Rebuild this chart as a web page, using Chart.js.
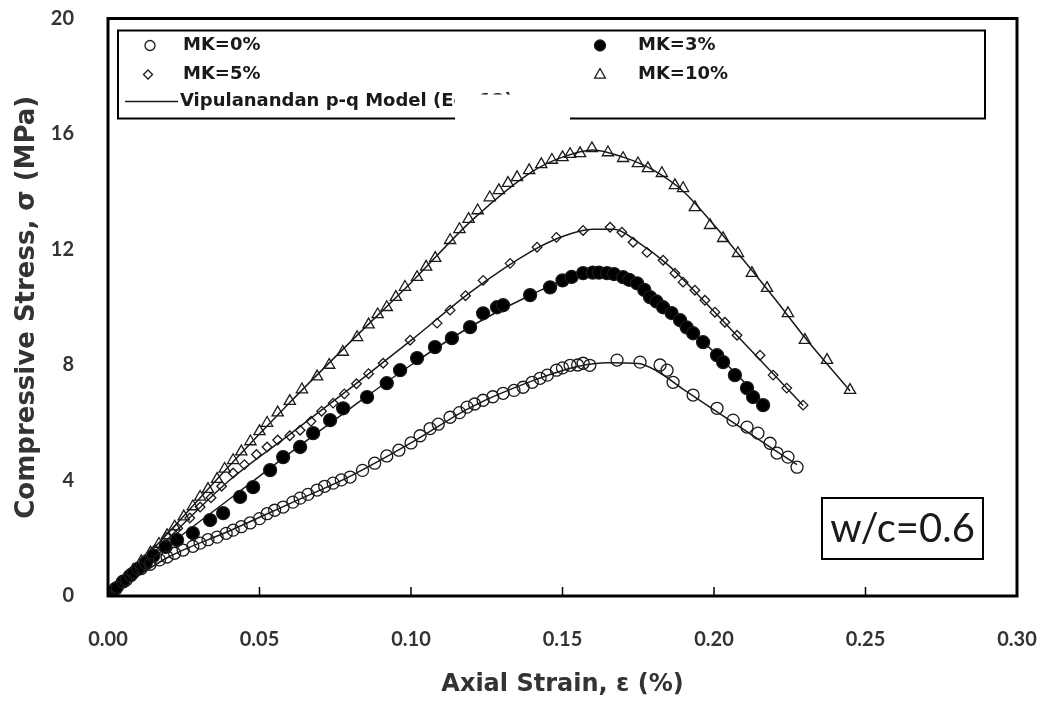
<!DOCTYPE html>
<html lang="en">
<head>
<meta charset="UTF-8">
<title>Compressive Stress vs Axial Strain</title>
<script src="https://cdn.jsdelivr.net/npm/chart.js/dist/chart.umd.min.js"></script>
<style>
  html, body { margin: 0; padding: 0; background: #fff; }
  .chartBox { width: 1050px; height: 702px; position: relative; }
</style>
</head>
<body>
<div class="chartBox"><canvas id="myChart"></canvas></div>
<script>
// axis setup
const xTicks = [0, 0.05, 0.10, 0.15, 0.20, 0.25, 0.30];
const yTicks = [0, 4, 8, 12, 16, 20];

// test data, strain (%) and stress (MPa)
const mk0Strain = [0, 0.003, 0.006, 0.0083, 0.011, 0.0139, 0.017, 0.0195, 0.022, 0.0248, 0.028, 0.0304, 0.033, 0.036, 0.039, 0.0413, 0.044, 0.0469, 0.050, 0.0525, 0.055, 0.0578, 0.061, 0.0634, 0.066, 0.069, 0.0715, 0.0743, 0.077, 0.0799, 0.084, 0.088, 0.092, 0.096, 0.100, 0.103, 0.1063, 0.109, 0.1129, 0.116, 0.1185, 0.121, 0.1238, 0.127, 0.1304, 0.134, 0.137, 0.140, 0.1426, 0.145, 0.148, 0.150, 0.1525, 0.155, 0.1568, 0.159, 0.168, 0.1756, 0.1822, 0.1845, 0.1865, 0.1931, 0.201, 0.2063, 0.2109, 0.2145, 0.2185, 0.2208, 0.2244, 0.2274];
const mk0Stress = [0, 0.3, 0.55, 0.8, 0.95, 1.1, 1.25, 1.35, 1.48, 1.59, 1.72, 1.83, 1.95, 2.04, 2.17, 2.28, 2.4, 2.53, 2.68, 2.85, 2.97, 3.08, 3.25, 3.39, 3.52, 3.67, 3.8, 3.91, 4.02, 4.12, 4.35, 4.6, 4.85, 5.05, 5.3, 5.55, 5.8, 5.95, 6.19, 6.35, 6.54, 6.65, 6.78, 6.9, 7.02, 7.12, 7.23, 7.4, 7.54, 7.65, 7.82, 7.9, 7.99, 8.0, 8.06, 7.99, 8.17, 8.1, 8.0, 7.82, 7.4, 6.96, 6.5, 6.09, 5.85, 5.64, 5.29, 4.95, 4.81, 4.46];

const mk3Strain = [0, 0.0025, 0.005, 0.0075, 0.01, 0.0125, 0.015, 0.019, 0.0228, 0.028, 0.0337, 0.038, 0.0436, 0.0479, 0.0535, 0.0578, 0.0634, 0.0677, 0.0733, 0.0776, 0.0855, 0.092, 0.0964, 0.102, 0.1079, 0.1135, 0.1195, 0.1238, 0.1284, 0.1304, 0.1393, 0.1459, 0.150, 0.153, 0.1568, 0.160, 0.162, 0.1647, 0.167, 0.170, 0.172, 0.1746, 0.177, 0.1789, 0.181, 0.1832, 0.186, 0.1888, 0.191, 0.1931, 0.1964, 0.201, 0.203, 0.2069, 0.2109, 0.2129, 0.2162];
const mk3Stress = [0, 0.25, 0.5, 0.72, 0.95, 1.15, 1.4, 1.7, 1.94, 2.18, 2.63, 2.87, 3.43, 3.77, 4.36, 4.81, 5.16, 5.64, 6.09, 6.5, 6.89, 7.37, 7.82, 8.24, 8.62, 8.93, 9.31, 9.79, 10.0, 10.07, 10.42, 10.69, 10.93, 11.05, 11.18, 11.2, 11.2, 11.18, 11.15, 11.04, 10.95, 10.83, 10.6, 10.35, 10.2, 10.0, 9.8, 9.55, 9.3, 9.1, 8.79, 8.34, 8.1, 7.65, 7.2, 6.89, 6.61];

const mk5Strain = [0, 0.004, 0.008, 0.012, 0.0155, 0.0195, 0.023, 0.027, 0.0304, 0.034, 0.0375, 0.0413, 0.045, 0.049, 0.0525, 0.056, 0.06, 0.0634, 0.067, 0.0705, 0.0743, 0.078, 0.082, 0.086, 0.0908, 0.0997, 0.1086, 0.1129, 0.118, 0.1238, 0.1327, 0.1416, 0.148, 0.1568, 0.1657, 0.1696, 0.1733, 0.1779, 0.1832, 0.1871, 0.1898, 0.1937, 0.197, 0.2003, 0.2036, 0.2076, 0.2152, 0.2195, 0.224, 0.2294];
const mk5Stress = [0, 0.45, 0.85, 1.25, 1.6, 2.04, 2.35, 2.7, 3.08, 3.4, 3.8, 4.26, 4.55, 4.9, 5.16, 5.4, 5.55, 5.74, 6.05, 6.4, 6.68, 7.0, 7.35, 7.7, 8.06, 8.86, 9.45, 9.9, 10.4, 10.93, 11.52, 12.08, 12.42, 12.66, 12.77, 12.6, 12.25, 11.9, 11.63, 11.18, 10.87, 10.59, 10.24, 9.83, 9.48, 9.03, 8.34, 7.65, 7.2, 6.61];

const mk10Strain = [0, 0.003, 0.0055, 0.0083, 0.011, 0.014, 0.0168, 0.0195, 0.022, 0.025, 0.028, 0.0304, 0.033, 0.036, 0.0385, 0.0413, 0.044, 0.047, 0.050, 0.0525, 0.056, 0.060, 0.064, 0.069, 0.073, 0.0775, 0.0822, 0.086, 0.089, 0.092, 0.095, 0.098, 0.102, 0.105, 0.108, 0.1129, 0.116, 0.119, 0.122, 0.126, 0.129, 0.132, 0.135, 0.139, 0.143, 0.1465, 0.150, 0.1525, 0.1558, 0.1597, 0.165, 0.170, 0.1749, 0.1782, 0.1828, 0.1871, 0.1898, 0.1937, 0.1987, 0.203, 0.2079, 0.2125, 0.2175, 0.2244, 0.230, 0.2373, 0.2449];
const mk10Stress = [0, 0.35, 0.6, 0.9, 1.2, 1.5, 1.8, 2.1, 2.4, 2.75, 3.1, 3.43, 3.7, 4.05, 4.4, 4.7, 5.0, 5.35, 5.7, 5.99, 6.35, 6.75, 7.15, 7.6, 8.0, 8.45, 8.96, 9.4, 9.75, 10.0, 10.35, 10.7, 11.04, 11.4, 11.7, 12.32, 12.7, 13.05, 13.35, 13.8, 14.05, 14.3, 14.5, 14.74, 14.95, 15.1, 15.19, 15.3, 15.33, 15.5, 15.36, 15.16, 14.98, 14.81, 14.64, 14.22, 14.12, 13.46, 12.84, 12.39, 11.87, 11.18, 10.66, 9.79, 8.86, 8.17, 7.13];

// Vipulanandan p-q model curves
const model0Strain = [0, 0.02, 0.04, 0.06, 0.08, 0.10, 0.12, 0.14, 0.155, 0.165, 0.175, 0.181, 0.19, 0.20, 0.21, 0.22, 0.2274];
const model0Stress = [0, 1.35, 2.25, 3.2, 4.15, 5.3, 6.55, 7.45, 7.95, 8.08, 8.05, 7.8, 7.15, 6.45, 5.75, 5.05, 4.55];
const model3Strain = [0, 0.02, 0.04, 0.06, 0.08, 0.10, 0.12, 0.14, 0.155, 0.165, 0.172, 0.18, 0.19, 0.20, 0.21, 0.2162];
const model3Stress = [0, 1.75, 3.35, 4.95, 6.5, 8.0, 9.35, 10.45, 11.1, 11.2, 11.0, 10.3, 9.4, 8.45, 7.4, 6.7];
const model5Strain = [0, 0.02, 0.04, 0.06, 0.08, 0.10, 0.12, 0.14, 0.15, 0.16, 0.167, 0.175, 0.185, 0.195, 0.205, 0.215, 0.2294];
const model5Stress = [0, 2.0, 4.0, 5.6, 7.2, 8.85, 10.55, 11.95, 12.45, 12.7, 12.7, 12.25, 11.45, 10.4, 9.3, 8.2, 6.6];
const model10Strain = [0, 0.02, 0.04, 0.06, 0.08, 0.10, 0.12, 0.14, 0.15, 0.16, 0.17, 0.18, 0.19, 0.20, 0.21, 0.22, 0.23, 0.2449];
const model10Stress = [0, 2.2, 4.5, 6.7, 8.8, 10.85, 13.0, 14.7, 15.2, 15.45, 15.2, 14.75, 14.0, 12.85, 11.6, 10.3, 8.95, 7.1];

const pts = (xs, ys) => xs.map((x, i) => ({ x: x, y: ys[i] }));

const tickFont = "Lato, 'Open Sans', sans-serif";
const wideFont = "'DejaVu Sans', Verdana, sans-serif";
const ink = '#1a1a1a';

const markerSet = (label, xs, ys, style, radius, fill) => ({
  label: label,
  data: pts(xs, ys),
  pointStyle: style,
  pointRadius: radius,
  pointBorderWidth: 1.3,
  pointBorderColor: ink,
  pointBackgroundColor: fill,
  showLine: false,
  order: 1
});

const modelSet = (xs, ys) => ({
  label: 'model',
  data: pts(xs, ys),
  showLine: true,
  pointRadius: 0,
  borderColor: ink,
  borderWidth: 1.5,
  cubicInterpolationMode: 'monotone',
  order: 2
});

// frame, inner tick marks, legend box and w/c label
const decorations = {
  id: 'decorations',
  afterDraw(chart) {
    const ctx = chart.ctx;
    const a = chart.chartArea;
    const xs = chart.scales.x;
    ctx.save();

    // inner ticks on the strain axis
    ctx.strokeStyle = '#000';
    ctx.lineWidth = 1.5;
    xTicks.forEach(v => {
      const px = xs.getPixelForValue(v);
      ctx.beginPath();
      ctx.moveTo(px, a.bottom);
      ctx.lineTo(px, a.bottom - 9);
      ctx.stroke();
    });

    // plot frame
    ctx.lineWidth = 3;
    ctx.strokeRect(a.left, a.top, a.right - a.left, a.bottom - a.top);

    // legend box
    const lx = a.left + 10, ly = a.top + 12;
    const lw = a.right - 32 - lx, lh = 88;
    ctx.fillStyle = '#fff';
    ctx.fillRect(lx, ly, lw, lh);
    ctx.lineWidth = 2;
    ctx.strokeRect(lx, ly, lw, lh);

    const drawMark = (style, x, y, r, filled) => {
      ctx.beginPath();
      if (style === 'circle') {
        ctx.arc(x, y, r, 0, Math.PI * 2);
      } else if (style === 'diamond') {
        ctx.moveTo(x, y - r); ctx.lineTo(x + r, y); ctx.lineTo(x, y + r); ctx.lineTo(x - r, y);
        ctx.closePath();
      } else {
        ctx.moveTo(x, y - r); ctx.lineTo(x + r * 0.9, y + r * 0.6); ctx.lineTo(x - r * 0.9, y + r * 0.6);
        ctx.closePath();
      }
      ctx.lineWidth = 1.3;
      ctx.strokeStyle = ink;
      if (filled) { ctx.fillStyle = '#000'; ctx.fill(); }
      ctx.stroke();
    };

    ctx.font = "bold 18px " + wideFont;
    ctx.textBaseline = 'middle';
    ctx.textAlign = 'left';
    const row1 = ly + 15, row2 = ly + 44, row3 = ly + 71;
    const col1 = lx + 32, col2 = lx + 482;
    drawMark('circle', col1, row1, 5, false);
    drawMark('diamond', col1 - 2, row2, 4.5, false);
    drawMark('circle', col2, row1, 5.5, true);
    drawMark('triangle', col2, row2, 6, false);
    ctx.fillStyle = ink;
    ctx.fillText('MK=0%', col1 + 33, row1);
    ctx.fillText('MK=5%', col1 + 33, row2);
    ctx.fillText('MK=3%', col2 + 38, row1);
    ctx.fillText('MK=10%', col2 + 38, row2);
    ctx.lineWidth = 1.5;
    ctx.beginPath();
    ctx.moveTo(lx + 7, row3);
    ctx.lineTo(lx + 60, row3);
    ctx.stroke();
    ctx.fillText('Vipulanandan p-q Model (Eq. 12)', lx + 62, row3);
    // patch over the end of the model label
    ctx.fillStyle = '#fff';
    ctx.fillRect(lx + 337, row3 - 7, 115, 30);

    // w/c box
    const bx = a.right - 195, by = a.bottom - 98, bw = 161, bh = 61;
    ctx.lineWidth = 2;
    ctx.strokeStyle = '#000';
    ctx.strokeRect(bx, by, bw, bh);
    ctx.fillStyle = ink;
    ctx.font = "40px " + tickFont;
    ctx.textAlign = 'center';
    ctx.fillText('w/c=0.6', bx + bw / 2, by + bh / 2 + 1);

    ctx.restore();
  }
};

const config = {
  type: 'scatter',
  data: {
    datasets: [
      markerSet('MK=0%', mk0Strain, mk0Stress, 'circle', 6, 'rgba(255,255,255,0)'),
      markerSet('MK=3%', mk3Strain, mk3Stress, 'circle', 6.5, '#000'),
      markerSet('MK=5%', mk5Strain, mk5Stress, 'rectRot', 4.8, 'rgba(255,255,255,0)'),
      markerSet('MK=10%', mk10Strain, mk10Stress, 'triangle', 6.5, 'rgba(255,255,255,0)'),
      modelSet(model0Strain, model0Stress),
      modelSet(model3Strain, model3Stress),
      modelSet(model5Strain, model5Stress),
      modelSet(model10Strain, model10Stress)
    ]
  },
  options: {
    responsive: true,
    maintainAspectRatio: false,
    animation: false,
    layout: { padding: { top: 18.5, right: 33, bottom: 0, left: 0 } },
    plugins: {
      legend: { display: false },
      tooltip: { enabled: false }
    },
    scales: {
      x: {
        type: 'linear',
        min: 0,
        max: 0.30,
        afterFit(scale) {
          scale.height = 106;
          scale.paddingLeft = 20;
          scale.paddingRight = 20;
        },
        afterBuildTicks(scale) { scale.ticks = xTicks.map(v => ({ value: v })); },
        grid: { display: false },
        border: { display: false },
        ticks: {
          padding: 24,
          color: '#333',
          font: { family: tickFont, size: 20, weight: 'bold' },
          callback: v => v.toFixed(2)
        },
        title: {
          display: true,
          text: 'Axial Strain, ε (%)',
          color: '#333',
          font: { family: wideFont, size: 24, weight: 'bold' },
          padding: { top: 0, bottom: 3 }
        }
      },
      y: {
        type: 'linear',
        min: 0,
        max: 20,
        afterFit(scale) {
          scale.width = 108;
          scale.paddingTop = 12;
          scale.paddingBottom = 12;
        },
        afterBuildTicks(scale) { scale.ticks = yTicks.map(v => ({ value: v })); },
        grid: { display: false },
        border: { display: false },
        ticks: {
          padding: 26,
          color: '#333',
          font: { family: tickFont, size: 20, weight: 'bold' }
        },
        title: {
          display: true,
          text: 'Compressive Stress, σ (MPa)',
          color: '#333',
          font: { family: wideFont, size: 26, weight: 'bold' },
          padding: { top: 12, bottom: 0 }
        }
      }
    }
  },
  plugins: [decorations]
};

const myChart = new Chart(document.getElementById('myChart'), config);
</script>
</body>
</html>
